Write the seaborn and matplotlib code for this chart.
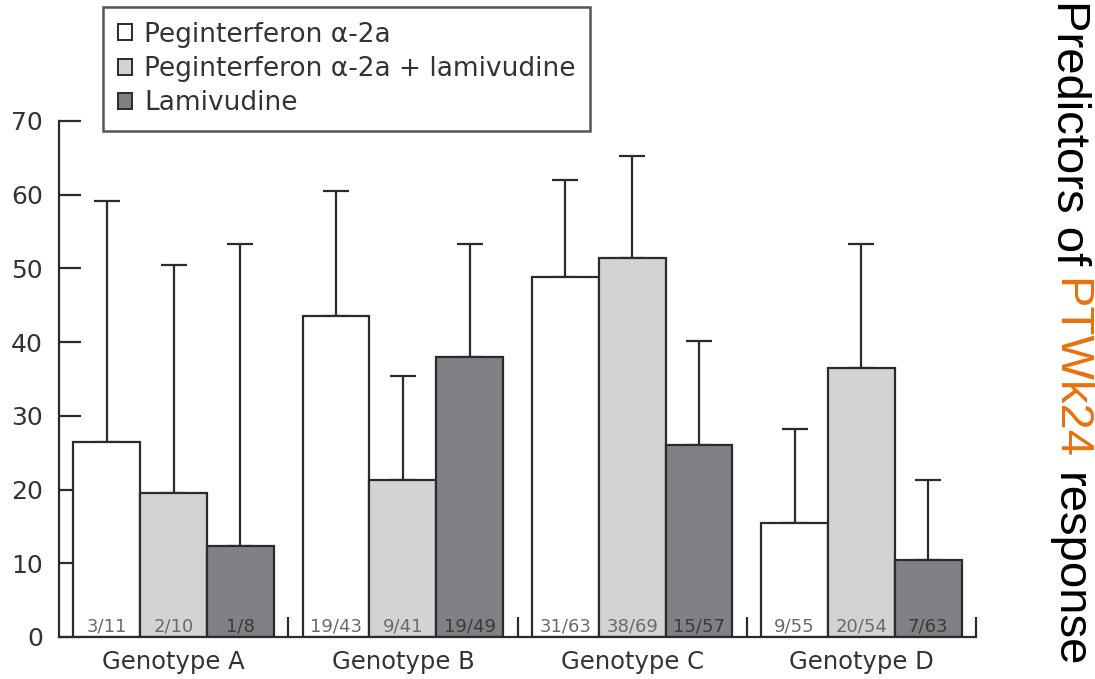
import matplotlib
matplotlib.use("Agg")
import matplotlib.pyplot as plt
from matplotlib.container import BarContainer
import seaborn as sns
import pandas as pd
import numpy as np

# ---------------- data ----------------
genotypes = ["Genotype A", "Genotype B", "Genotype C", "Genotype D"]
treatments = ["Peginterferon \u03b1-2a", "Peginterferon \u03b1-2a + lamivudine", "Lamivudine"]

peg_values = [26.4, 43.5, 48.9, 15.4]
peg_lam_values = [19.5, 21.3, 51.4, 36.5]
lam_values = [12.4, 38.0, 26.0, 10.4]

peg_upper = [59.1, 60.5, 62.0, 28.2]
peg_lam_upper = [50.4, 35.4, 65.3, 53.3]
lam_upper = [53.3, 53.3, 40.1, 21.3]

peg_counts = ["3/11", "19/43", "31/63", "9/55"]
peg_lam_counts = ["2/10", "9/41", "38/69", "20/54"]
lam_counts = ["1/8", "19/49", "15/57", "7/63"]

y_ticks = [0, 10, 20, 30, 40, 50, 60, 70]

title_parts = ["Predictors of", "PTWk24", "response"]

# ---------------- styling ----------------
sns.set_theme(style="white")
plt.rcParams["font.family"] = ["DejaVu Sans"]

ink = "#2b2b2b"
text_col = "#333333"
colors = ["#ffffff", "#d2d3d5", "#808184"]

df = pd.DataFrame({
    "genotype": np.repeat(genotypes, 3),
    "treatment": treatments * len(genotypes),
    "value": [v for trip in zip(peg_values, peg_lam_values, lam_values) for v in trip],
})

fig = plt.figure(figsize=(10.95, 6.79), dpi=100)
ax = fig.add_axes([59 / 1095, 1 - 637 / 679, (976 - 59) / 1095, (637 - 121) / 679])

sns.barplot(data=df, x="genotype", y="value", hue="treatment",
            order=genotypes, hue_order=treatments, palette=colors,
            width=0.875, edgecolor=ink, linewidth=1.6, errorbar=None,
            saturation=1, ax=ax)

handles, labels = ax.get_legend_handles_labels()
if ax.get_legend() is not None:
    ax.get_legend().remove()

uppers = [peg_upper, peg_lam_upper, lam_upper]
counts = [peg_counts, peg_lam_counts, lam_counts]
count_colors = ["#6a6a6a", "#6a6a6a", "#3a3a3a"]

bar_containers = [c for c in ax.containers if isinstance(c, BarContainer)]
for i, cont in enumerate(bar_containers):
    xs = [b.get_x() + b.get_width() / 2 for b in cont]
    hs = [b.get_height() for b in cont]
    err_up = [u - h for u, h in zip(uppers[i], hs)]
    ax.errorbar(xs, hs, yerr=[[0] * len(hs), err_up], fmt="none",
                ecolor=ink, elinewidth=1.6, capsize=9.5, capthick=1.6, zorder=0.9)
    for x, lab in zip(xs, counts[i]):
        ax.text(x, 0.8, lab, ha="center", va="baseline", fontsize=13,
                color=count_colors[i], zorder=3)

ax.set_xlim(-0.5, 3.5)
ax.set_ylim(0, 70)
ax.set_yticks(y_ticks)
ax.set_yticklabels([str(t) for t in y_ticks], fontsize=18, color=text_col)
ax.set_xticks(range(len(genotypes)))
ax.set_xticklabels(genotypes, fontsize=17.5, color=text_col)
ax.set_xticks([0.5, 1.5, 2.5, 3.5], minor=True)
ax.set_xlabel("")
ax.set_ylabel("")
ax.set_axisbelow(True)

ax.tick_params(axis="y", which="major", direction="in", length=15.5, width=1.6,
               color=ink, pad=11.5, left=True)
ax.tick_params(axis="x", which="major", length=0, pad=9)
ax.tick_params(axis="x", which="minor", direction="in", length=14.5, width=1.6,
               color=ink, bottom=True)

for s in ["top", "right"]:
    ax.spines[s].set_visible(False)
for s in ["left", "bottom"]:
    ax.spines[s].set_color(ink)
    ax.spines[s].set_linewidth(1.6)

leg = fig.legend(handles, labels, loc="upper left",
                 bbox_to_anchor=(103 / 1095, 1 - 7 / 679),
                 fontsize=19, frameon=True, fancybox=False,
                 handlelength=0.55, handleheight=0.55, handletextpad=0.45,
                 labelspacing=0.32, borderpad=0.55, borderaxespad=0)
leg.get_frame().set_edgecolor(ink)
leg.get_frame().set_linewidth(1.8)
for t in leg.get_texts():
    t.set_color(text_col)
for h in leg.legend_handles:
    h.set_edgecolor(ink)
    h.set_linewidth(1.4)

# rotated side title, multi-coloured
fig.canvas.draw()
renderer = fig.canvas.get_renderer()
fs = 34
x_base = 1057 / 1095
y_cur = 1.0
space = 0.278 * fs * 100 / 72 / 679
part_colors = ["black", "#e8710a", "black"]
for part, col in zip(title_parts, part_colors):
    t = fig.text(x_base, y_cur, part, rotation=270, rotation_mode="anchor",
                 ha="left", va="baseline", fontsize=fs, color=col,
                 family="Liberation Sans")
    bb = t.get_window_extent(renderer=renderer)
    length = bb.height / fig.bbox.height
    y_cur = y_cur - length - space

fig.savefig("out.png", dpi=100)
